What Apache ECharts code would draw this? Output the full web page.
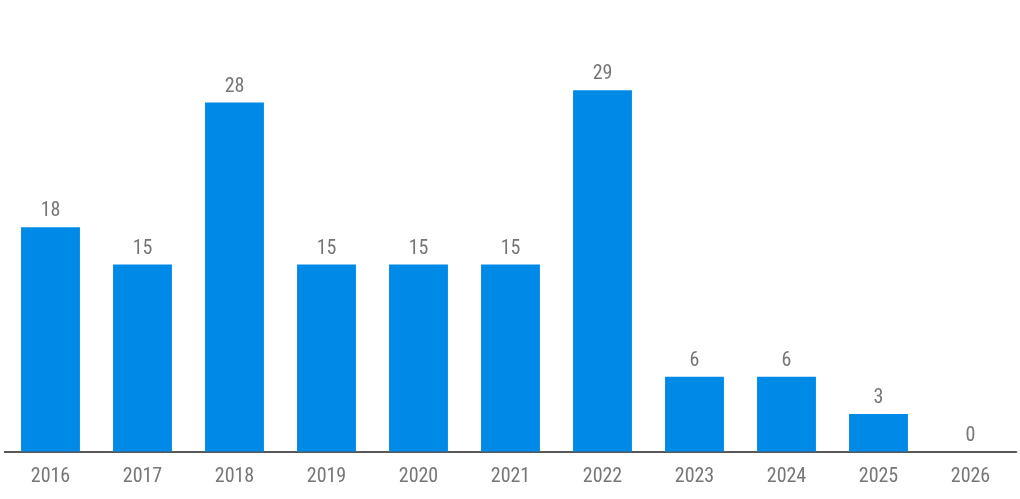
<!DOCTYPE html>
<html>
<head>
<meta charset="utf-8">
<script src="https://cdn.jsdelivr.net/npm/echarts@6/dist/echarts.min.js"></script>
<style>
  html, body { margin: 0; padding: 0; background: #fff; }
  #chart { width: 1020px; height: 499px; }
</style>
</head>
<body>
<div id="chart"></div>
<script>
const years = ['2016', '2017', '2018', '2019', '2020', '2021', '2022', '2023', '2024', '2025', '2026'];
const counts = [18, 15, 28, 15, 15, 15, 29, 6, 6, 3, 0];

const chart = echarts.init(document.getElementById('chart'));
const font = '"Liberation Sans Narrow", "Roboto Condensed", "Liberation Sans", sans-serif';

chart.setOption({
    animation: false,
    grid: { left: 4.5, right: 3.5, top: 77.7, bottom: 47.5 },
    xAxis: {
        type: 'category',
        data: years,
        axisLine: { lineStyle: { color: '#222', width: 1.5 } },
        axisTick: { alignWithLabel: true, length: 5, lineStyle: { color: '#d0d0d0', width: 1 } },
        axisLabel: { color: '#767676', fontFamily: font, fontSize: 20, margin: 15 }
    },
    yAxis: {
        type: 'value',
        min: 0,
        max: 30,
        show: false,
        splitLine: { show: false }
    },
    series: [{
        type: 'bar',
        data: counts,
        barWidth: '64%',
        itemStyle: { color: '#008ae8' },
        label: {
            show: true,
            position: 'top',
            distance: 6,
            color: '#767676',
            fontFamily: font,
            fontSize: 20
        }
    }]
});
</script>
</body>
</html>
